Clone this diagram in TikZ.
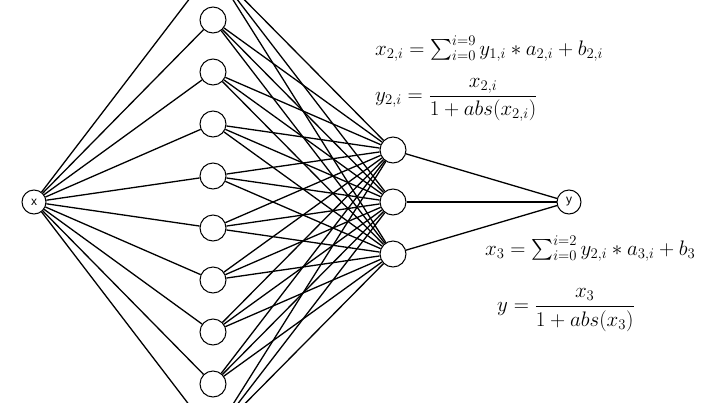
\RequirePackage{fix-cm}
\documentclass[tikz,border=0pt]{standalone}
\usepackage{amsmath}
\usepackage{exscale}
\usepackage{fontspec}
\newfontfamily\nodefont{Liberation Sans}
\begin{document}
\begin{tikzpicture}[x=1pt,y=-1pt,
  neuron/.style={circle,draw,line width=1pt,minimum size=26pt,inner sep=0pt,fill=white,font=\nodefont\fontsize{12}{14}\selectfont},
  edge/.style={line width=1.3pt},
  formula/.style={inner sep=0pt,font=\fontsize{21}{24}\selectfont}]
\useasboundingbox (0,0) rectangle (715,402);
\clip (0,0) rectangle (715,402);
\node[neuron,minimum size=24pt] (x) at (34,202) {x};
\foreach \k in {0,...,9} \node[neuron] (h\k) at (213,{202+26*(2*\k-9)}) {};
\foreach \k in {0,1,2} \node[neuron] (g\k) at (393,{150+52*\k}) {};
\node[neuron,minimum size=24pt] (y) at (569,202) {y};
\foreach \k in {0,...,9} {
  \draw[edge] (x) -- (h\k);
  \foreach \j in {0,1,2} \draw[edge] (h\k) -- (g\j);
}
\foreach \j in {0,1,2} \draw[edge] (g\j) -- (y);
\node[formula,anchor=base west] (f1) at (375,55) {$x_{2,i} = \sum_{i=0}^{i=9} y_{1,i} * a_{2,i} + b_{2,i}$};
\node[formula,anchor=west] (f2) at (375,100) {$\displaystyle y_{2,i} = \frac{x_{2,i}}{1+abs(x_{2,i})}$};
\node[formula,anchor=base west] (f3) at (485,255) {$x_{3} = \sum_{i=0}^{i=2} y_{2,i} * a_{3,i} + b_{3}$};
\node[formula,anchor=west] (f4) at (497,310) {$\displaystyle y = \frac{x_{3}}{1+abs(x_{3})}$};
\end{tikzpicture}
\end{document}
